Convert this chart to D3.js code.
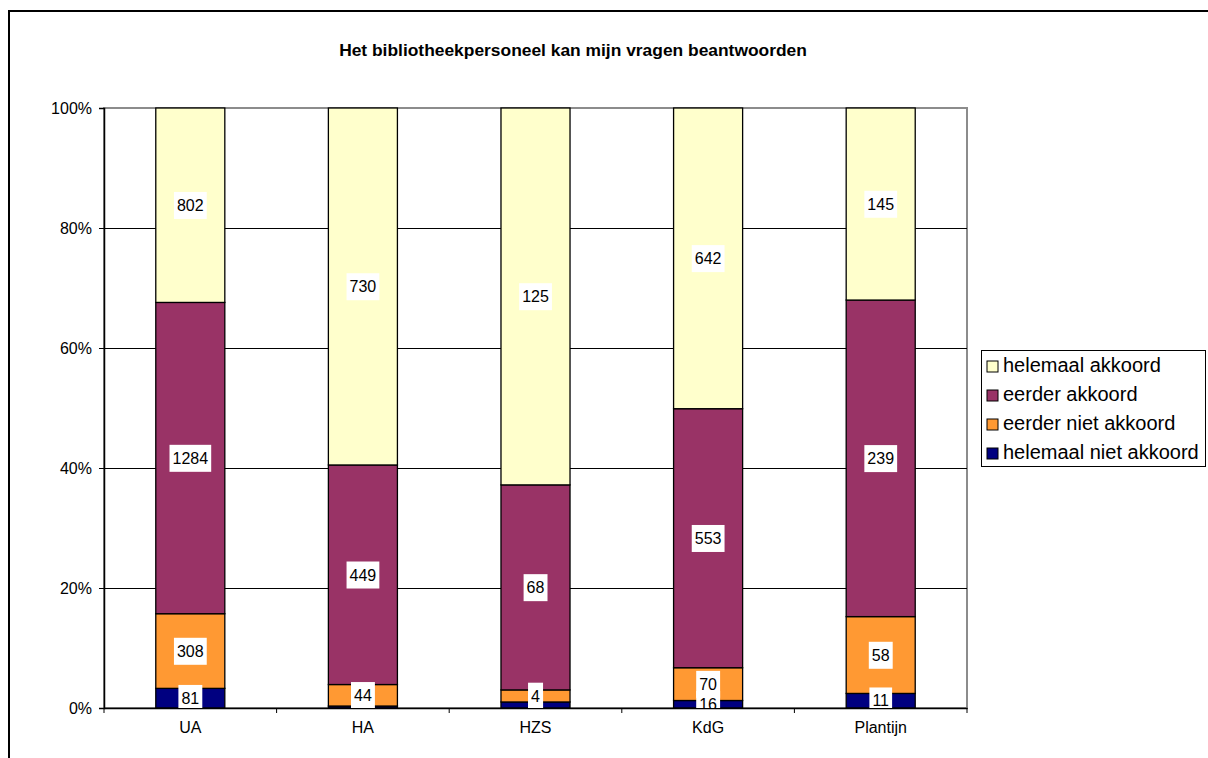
<!DOCTYPE html>
<html>
<head>
<meta charset="utf-8">
<script src="https://cdn.jsdelivr.net/npm/d3@7"></script>
<style>
  body { margin: 0; background: #fff; }
  svg { font-family: "Liberation Sans", Arial, sans-serif; }
</style>
</head>
<body>
<div id="chart"></div>
<script>
// data
var categories = ["UA", "HA", "HZS", "KdG", "Plantijn"];
var seriesNames = ["helemaal niet akkoord", "eerder niet akkoord", "eerder akkoord", "helemaal akkoord"];
var helemaalNiet = [81, 4, 2, 16, 11];
var eerderNiet = [308, 44, 4, 70, 58];
var eerderAkkoord = [1284, 449, 68, 553, 239];
var helemaalAkkoord = [802, 730, 125, 642, 145];
var colors = ["#000080", "#FF9933", "#993366", "#FFFFCC"];
var yTicks = [0, 0.2, 0.4, 0.6, 0.8, 1];

var W = 1208, H = 758;
var margin = {top: 108, left: 104, right: 241, bottom: 50};
var plotW = W - margin.left - margin.right;
var plotH = H - margin.top - margin.bottom;

var svg = d3.select("#chart").append("svg")
  .attr("width", W)
  .attr("height", H);

// outer chart frame
svg.append("rect")
  .attr("x", 9).attr("y", 11)
  .attr("width", W + 20).attr("height", H + 20)
  .attr("fill", "none")
  .attr("stroke", "#000")
  .attr("stroke-width", 2);

svg.append("text")
  .attr("x", 573).attr("y", 56)
  .attr("text-anchor", "middle")
  .attr("font-size", 17.4)
  .attr("font-weight", "bold")
  .text("Het bibliotheekpersoneel kan mijn vragen beantwoorden");

var g = svg.append("g")
  .attr("transform", "translate(" + margin.left + "," + margin.top + ")");

var table = categories.map(function(c, i) {
  return {cat: c, vals: [helemaalNiet[i], eerderNiet[i], eerderAkkoord[i], helemaalAkkoord[i]]};
});
var keys = [0, 1, 2, 3];
var stacked = d3.stack()
  .keys(keys)
  .value(function(d, k) { return d.vals[k]; })
  .offset(d3.stackOffsetExpand)(table);

var x = d3.scaleBand()
  .domain(categories)
  .range([0, plotW])
  .paddingInner(0.6)
  .paddingOuter(0.3);

var y = d3.scaleLinear()
  .domain([0, 1])
  .range([plotH, 0]);

// plot area border
g.append("rect")
  .attr("width", plotW).attr("height", plotH)
  .attr("fill", "none")
  .attr("stroke", "#8c8c8c")
  .attr("stroke-width", 2);

// gridlines
g.selectAll(".grid")
  .data(yTicks.slice(1, -1))
  .enter().append("line")
  .attr("x1", 0).attr("x2", plotW)
  .attr("y1", function(d) { return Math.round(y(d)) + 0.5; })
  .attr("y2", function(d) { return Math.round(y(d)) + 0.5; })
  .attr("stroke", "#000")
  .attr("stroke-width", 1);

// bars
var layers = g.selectAll(".layer")
  .data(stacked)
  .enter().append("g")
  .attr("fill", function(d) { return colors[d.key]; });

layers.selectAll("rect")
  .data(function(d) { return d; })
  .enter().append("rect")
  .attr("x", function(d) { return x(d.data.cat); })
  .attr("y", function(d) { return y(d[1]); })
  .attr("width", x.bandwidth())
  .attr("height", function(d) { return y(d[0]) - y(d[1]); })
  .attr("stroke", "#000")
  .attr("stroke-width", 1.3);

// axes
var yAxis = g.append("g")
  .call(d3.axisLeft(y).tickValues(yTicks).tickFormat(d3.format(".0%")).tickSize(5).tickPadding(7));
yAxis.select(".domain").attr("stroke", "#000").attr("stroke-width", 1.5);
yAxis.selectAll("text").attr("font-size", 16).attr("fill", "#000").attr("font-family", "Liberation Sans, Arial");

var xAxis = g.append("g")
  .attr("transform", "translate(0," + plotH + ")")
  .call(d3.axisBottom(x).tickSize(0).tickPadding(14));
xAxis.select(".domain").attr("stroke", "#000").attr("stroke-width", 1.5);
xAxis.selectAll("text").attr("font-size", 16).attr("fill", "#000").attr("font-family", "Liberation Sans, Arial");

// bottom tick marks between categories
var step = x.step();
var bounds = d3.range(categories.length + 1).map(function(i) {
  return x(categories[0]) - x.paddingInner() * step / 2 + i * step;
});
g.selectAll(".xtick")
  .data(bounds)
  .enter().append("line")
  .attr("x1", function(d) { return d; }).attr("x2", function(d) { return d; })
  .attr("y1", plotH).attr("y2", plotH + 5)
  .attr("stroke", "#000");

// data labels, clipped to the plot area
svg.append("clipPath").attr("id", "plotclip")
  .append("rect").attr("width", plotW).attr("height", plotH);

var labels = g.append("g").attr("clip-path", "url(#plotclip)");
stacked.forEach(function(layer) {
  layer.forEach(function(d, i) {
    var cx = x(d.data.cat) + x.bandwidth() / 2;
    var cy = (y(d[0]) + y(d[1])) / 2;
    var lg = labels.append("g");
    var t = lg.append("text")
      .attr("x", cx).attr("y", cy)
      .attr("dy", "0.36em")
      .attr("text-anchor", "middle")
      .attr("font-size", 16)
      .attr("fill", "#000")
      .text(d.data.vals[layer.key]);
    var b = t.node().getBBox();
    lg.insert("rect", "text")
      .attr("x", b.x - 3).attr("y", b.y - 5)
      .attr("width", b.width + 6).attr("height", b.height + 10)
      .attr("fill", "#fff");
  });
});

// legend
var legend = svg.append("g").attr("transform", "translate(981,350)");
legend.append("rect")
  .attr("x", 0.5).attr("y", 0.5)
  .attr("width", 224).attr("height", 116)
  .attr("fill", "#fff")
  .attr("stroke", "#000");

var legendOrder = [3, 2, 1, 0];
var items = legend.selectAll(".item")
  .data(legendOrder)
  .enter().append("g")
  .attr("transform", function(d, i) { return "translate(6," + (22 + i * 29) + ")"; });
items.append("rect")
  .attr("x", 0).attr("y", -11)
  .attr("width", 11).attr("height", 11)
  .attr("fill", function(d) { return colors[d]; })
  .attr("stroke", "#000");
items.append("text")
  .attr("x", 16).attr("y", 0)
  .attr("font-size", 20)
  .attr("fill", "#000")
  .text(function(d) { return seriesNames[d]; });
</script>
</body>
</html>
